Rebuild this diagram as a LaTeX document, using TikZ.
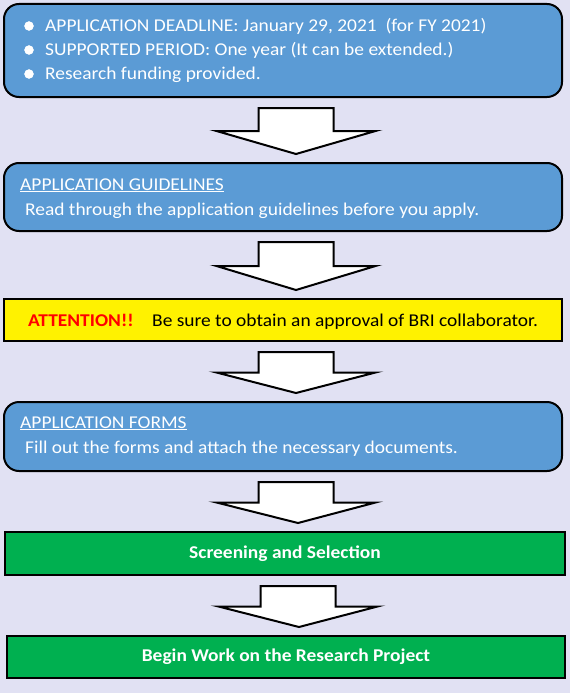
\documentclass[tikz,border=0pt]{standalone}
\usepackage{fontspec}
\setmainfont{Carlito}[FakeStretch=1.08]
\usetikzlibrary{calc}
\definecolor{lavender}{RGB}{225,225,243}
\definecolor{stepblue}{RGB}{91,155,213}
\definecolor{stepgreen}{RGB}{0,176,80}
\tikzset{
  every node/.style={font=\fontsize{18}{22}\selectfont},
  box/.style={draw=black, line width=2pt, inner sep=0pt, minimum width=558pt},
  bluebox/.style={box, fill=stepblue, rounded corners=15pt},
  greenbox/.style={box, fill=stepgreen, text=white, font=\fontsize{18}{22}\selectfont\bfseries},
  notebox/.style={box, fill=yellow},
  whitetext/.style={text=white, anchor=base west, inner sep=0pt},
  blockarrow/.style={draw=black, fill=white, line width=2pt, line join=miter}
}
% block arrow from the bottom of one box to the top of the next
\newcommand{\bigdownarrow}[2]{%
  \draw[blockarrow] let \p1=($(#1.south)+(13pt,-10pt)$), \p2=($(#2.north)+(13pt,8pt)$),
    \p3=($(\p1)!0.5!(\p2)$) in
    (\x1-37.5pt,\y1) -- (\x1+37.5pt,\y1) -- (\x1+37.5pt,\y3) -- (\x1+79.5pt,\y3)
    -- (\x2,\y2) -- (\x1-79.5pt,\y3) -- (\x1-37.5pt,\y3) -- cycle;
}
\begin{document}
\begin{tikzpicture}[x=1pt, y=-1pt]
\fill[lavender] (0,0) rectangle (570,693);
\useasboundingbox (0,0) rectangle (570,693);
% boxes
\node[bluebox, minimum height=93pt] (info) at (283,50.5) {};
\node[bluebox, minimum height=68pt] (guide) at (283,197) {};
\node[notebox, minimum height=42pt] (attn) at (283,320) {};
\node[bluebox, minimum height=69pt] (forms) at (283,436.5) {};
\node[greenbox, minimum width=560pt, minimum height=43pt] (screen) at (285,553.5) {Screening and Selection};
\node[greenbox, minimum height=42pt] (begin) at (286,657) {Begin Work on the Research Project};
% first box: bullet list
\filldraw[white] (29,26) circle (4.5);
\filldraw[white] (29,50) circle (4.5);
\filldraw[white] (29,74) circle (4.5);
\node[whitetext] (item1) at (45,32) {APPLICATION DEADLINE: January 29, 2021\ \ (for FY 2021)};
\node[whitetext] (item2) at (45,56) {SUPPORTED PERIOD: One year (It can be extended.)};
\node[whitetext] (item3) at (45,80) {Research funding provided.};
% guidelines
\node[whitetext] (guidehead) at (20,190) {\underline{APPLICATION GUIDELINES}};
\node[whitetext] (guidetext) at (25,215) {Read through the application guidelines before you apply.};
% attention
\node[anchor=base west, inner sep=0pt, text=red, font=\fontsize{18}{22}\selectfont\bfseries] (attnhead) at (28,326) {ATTENTION!!};
\node[anchor=base west, inner sep=0pt] (attntext) at (152,326) {Be sure to obtain an approval of BRI collaborator.};
% forms
\node[whitetext] (formshead) at (20,428) {\underline{APPLICATION FORMS}};
\node[whitetext] (formstext) at (25,453) {Fill out the forms and attach the necessary documents.};
% arrows
\bigdownarrow{info}{guide}
\bigdownarrow{guide}{attn}
\bigdownarrow{attn}{forms}
\bigdownarrow{forms}{screen}
\bigdownarrow{screen}{begin}
\end{tikzpicture}
\end{document}
